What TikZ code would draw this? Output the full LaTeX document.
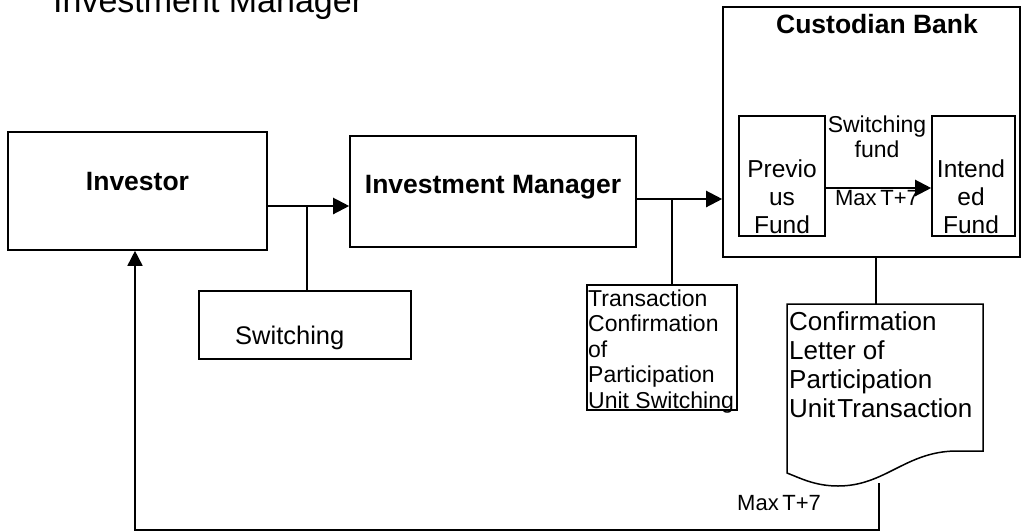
\documentclass[tikz,border=0pt]{standalone}
\usepackage{fontspec}
\setmainfont{Liberation Sans}
\usetikzlibrary{arrows.meta}

\begin{document}
\begin{tikzpicture}[x=1pt,y=-1pt,
				box/.style={draw,line width=1.6pt,inner sep=0pt},
				ln/.style={line width=1.6pt},
				arr/.style={line width=2.2pt,-{Triangle[length=16pt,width=16pt]}},
				big/.style={font=\fontsize{26.5}{30}\selectfont\bfseries,inner sep=0pt},
				txt/.style={font=\fontsize{23}{25.5}\selectfont,inner sep=0pt}]
				\useasboundingbox (0,0) rectangle (1025,531);
				\node(0) at (53,12.7)[anchor=base west,inner sep=0pt,font=\fontsize{34}{40}\selectfont]{Investment Manager};
				
				\node(1) at (137.5,191)[box,minimum width=259pt,minimum height=118pt]{};
				\node(1a) at (137.5,190)[big,anchor=base]{Investor};
				\node(2) at (493,191.5)[box,minimum width=286pt,minimum height=111pt]{};
				\node(2a) at (493,193)[big,anchor=base]{Investment Manager};
				\node(3) at (871.5,132)[box,minimum width=297pt,minimum height=250pt]{};
				\node(3a) at (877,33)[big,anchor=base]{Custodian Bank};
				\node(4) at (782,176)[box,minimum width=86pt,minimum height=120pt]{};
				\node(4a) at (782,159.5)[anchor=north,inner sep=0pt,align=center,font=\fontsize{24.5}{28}\selectfont]{Previo\\us\\Fund};
				\node(5) at (973.5,176)[box,minimum width=83pt,minimum height=120pt]{};
				\node(5a) at (971,159.5)[anchor=north,inner sep=0pt,align=center,font=\fontsize{24.5}{28}\selectfont]{Intend\\ed\\Fund};
				\node(6) at (305,325)[box,minimum width=212pt,minimum height=68pt]{};
				\node(6a) at (235,344)[anchor=base west,inner sep=0pt,font=\fontsize{25.5}{30}\selectfont]{Switching};
				\node(7) at (662,347.5)[box,minimum width=150pt,minimum height=125pt]{};
				\node(7a) at (588,289.5)[txt,anchor=north west,align=left]{Transaction\\Confirmation\\of\\Participation\\Unit Switching};
				
				% document shape
				\draw[line width=1.5pt] (787,304) -- (983,304) -- (983,451) -- (955,451) .. controls (905,452) and (885,486) .. (838,486) .. controls (815,486) and (800,478) .. (787,473) -- cycle;
				\coordinate(8t) at (876,304);
				\coordinate(8b) at (879,483);
				\node(8a) at (789,311)[anchor=north west,inner sep=0pt,align=left,font=\fontsize{26}{29}\selectfont]{Confirmation\\Letter of\\Participation\\Unit\kern2pt Transaction};
				
				% connectors
				\draw[arr] ([yshift=-15pt]1.east) -- ([yshift=-15pt]1.east -| 2.west);
				\coordinate(c1) at (307,206);
				\draw[ln] (c1) -- (c1 |- 6.north);
				\draw[arr] ([yshift=-7.5pt]2.east) -- ([yshift=-7.5pt]2.east -| 3.west);
				\coordinate(c2) at (672,199);
				\draw[ln] (c2) -- (c2 |- 7.north);
				\draw[arr] ([yshift=-12pt]4.east) -- ([yshift=-12pt]4.east -| 5.west);
				\node(9) at (877,115.5)[txt,anchor=north,align=center,font=\fontsize{23}{25}\selectfont]{Switching\\fund};
				\node(10) at (877,205)[anchor=base,inner sep=0pt,font=\fontsize{22}{26}\selectfont]{Max\,T+7};
				\draw[ln] (8t |- 3.south) -- (8t);
				\coordinate(c4) at (879,530);
				\draw[ln,-{Triangle[length=15pt,width=15pt]}] (8b) -- (c4) -| ([xshift=-2.5pt]1.south);
				\node(11) at (737,510)[anchor=base west,inner sep=0pt,font=\fontsize{22}{26}\selectfont]{Max\,T+7};
			\end{tikzpicture}
\end{document}
